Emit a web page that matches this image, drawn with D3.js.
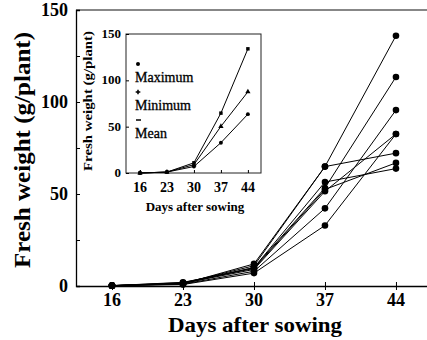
<!DOCTYPE html>
<html>
<head>
<meta charset="utf-8">
<script src="https://cdn.jsdelivr.net/npm/d3@7"></script>
<style>
  body { margin: 0; background: #fff; }
  svg { display: block; }
  text { font-family: "Liberation Serif", "Times New Roman", serif; fill: #000; }
</style>
</head>
<body>
<script>

// days after sowing (x categories)
const days = [16, 23, 30, 37, 44];

// main chart: one line per plant line / cultivar
const s1 = [0.2, 1.5, 11, 64.9, 136];
const s2 = [0.2, 1.2, 12, 64.9, 72.2];
const s3 = [0.2, 1.8, 10, 53.3, 113.6];
const s4 = [0.2, 1.0, 8, 42.2, 95.6];
const s5 = [0.2, 0.8, 7, 32.9, 82.6];
const s6 = [0.2, 1.5, 9, 51.5, 82.6];
const s7 = [0.2, 1.2, 10, 56.5, 63.8];
const s8 = [0.2, 2.0, 9.5, 52.5, 66.9];
const mainSeries = [s1, s2, s3, s4, s5, s6, s7, s8];

// inset chart
const insetA = [0, 1, 11, 64.6, 134];
const insetB = [0, 1, 9, 50.3, 87.6];
const insetC = [0, 1, 7, 32.7, 63.5];
const insetSeries = [insetA, insetB, insetC];
const legendLabels = ["Maximum", "Minimum", "Mean"];

const yTicksMain = [0, 50, 100, 150];
const yMinorMain = [0, 25, 50, 75, 100, 125, 150];
const yTicksInset = [0, 50, 100, 150];

const W = 427, H = 340;

const svg = d3.select("body").append("svg")
    .attr("width", W)
    .attr("height", H);

// ---- main chart ----
const x = d3.scaleLinear().domain([12.45, 47.06]).range([76, 427]);
const y = d3.scaleLinear().domain([0, 150]).range([286, 10]);

// top frame line
svg.append("line")
    .attr("x1", 76).attr("x2", 427)
    .attr("y1", y(150)).attr("y2", y(150))
    .attr("stroke", "#111").attr("stroke-width", 1.2);

// left axis, ticks pointing inward
const yAxis = svg.append("g")
    .attr("transform", "translate(76,0)")
    .call(d3.axisRight(y).tickValues(yMinorMain).tickSize(4).tickFormat(""));
yAxis.select(".domain").attr("stroke-width", 1.3);

svg.selectAll("text.ylab")
    .data(yTicksMain)
    .enter()
    .append("text")
        .attr("class", "ylab")
        .attr("x", 68)
        .attr("y", d => y(d) + 6)
        .attr("text-anchor", "end")
        .style("font-size", "18px")
        .style("font-weight", "bold")
        .text(d => d);

// bottom axis, ticks crossing the line
const xAxis = svg.append("g")
    .attr("transform", "translate(0," + y(0) + ")")
    .call(d3.axisBottom(x).tickValues(days).tickSizeInner(4).tickSizeOuter(0).tickFormat(""));
xAxis.select(".domain").attr("stroke-width", 1.3);
xAxis.selectAll(".tick line").attr("y1", -4);

svg.selectAll("text.xlab")
    .data(days)
    .enter()
    .append("text")
        .attr("class", "xlab")
        .attr("x", d => x(d))
        .attr("y", 306)
        .attr("text-anchor", "middle")
        .style("font-size", "18px")
        .style("font-weight", "bold")
        .text(d => d);

svg.append("text")
    .attr("x", 255)
    .attr("y", 332)
    .attr("text-anchor", "middle")
    .attr("textLength", 174)
    .attr("lengthAdjust", "spacingAndGlyphs")
    .style("font-size", "22px")
    .style("font-weight", "bold")
    .text("Days after sowing");

svg.append("text")
    .attr("transform", "translate(30,150) rotate(-90)")
    .attr("text-anchor", "middle")
    .attr("textLength", 236)
    .attr("lengthAdjust", "spacingAndGlyphs")
    .style("font-size", "23px")
    .style("font-weight", "bold")
    .text("Fresh weight (g/plant)");

const line = d3.line()
    .x((d, i) => x(days[i]))
    .y(d => y(d));

svg.selectAll("path.series")
    .data(mainSeries)
    .enter()
    .append("path")
        .attr("class", "series")
        .attr("d", line)
        .attr("fill", "none")
        .attr("stroke", "#000")
        .attr("stroke-width", 1);

mainSeries.forEach(s => {
    svg.selectAll(null)
        .data(s)
        .enter()
        .append("circle")
            .attr("cx", (d, i) => x(days[i]))
            .attr("cy", d => y(d))
            .attr("r", 3.3)
            .attr("fill", "#000");
});

// ---- inset ----
const ix = d3.scaleLinear().domain([12.37, 47.4]).range([126, 261]);
const iy = d3.scaleLinear().domain([0, 150]).range([173, 34]);

const inset = svg.append("g");

inset.append("rect")
    .attr("x", 126).attr("y", 34)
    .attr("width", 135).attr("height", 139)
    .attr("fill", "#fff")
    .attr("stroke", "#222")
    .attr("stroke-width", 1);

inset.append("g")
    .attr("transform", "translate(126,0)")
    .call(d3.axisRight(iy).tickValues(yTicksInset).tickSize(3).tickFormat(""))
    .select(".domain").remove();

inset.append("g")
    .attr("transform", "translate(0,173)")
    .call(d3.axisTop(ix).tickValues(days).tickSize(3).tickFormat(""))
    .select(".domain").remove();

inset.selectAll("text.iy")
    .data(yTicksInset)
    .enter()
    .append("text")
        .attr("x", 121)
        .attr("y", d => iy(d) + 4)
        .attr("text-anchor", "end")
        .style("font-size", "13px")
        .style("font-weight", "bold")
        .text(d => d);

inset.selectAll("text.ix")
    .data(days)
    .enter()
    .append("text")
        .attr("x", d => ix(d))
        .attr("y", 192)
        .attr("text-anchor", "middle")
        .style("font-size", "14px")
        .style("font-weight", "bold")
        .text(d => d);

inset.append("text")
    .attr("x", 195)
    .attr("y", 211)
    .attr("text-anchor", "middle")
    .style("font-size", "13px")
    .style("font-weight", "bold")
    .text("Days after sowing");

inset.append("text")
    .attr("transform", "translate(92,101) rotate(-90)")
    .attr("text-anchor", "middle")
    .attr("textLength", 140)
    .attr("lengthAdjust", "spacingAndGlyphs")
    .style("font-size", "12px")
    .style("font-weight", "bold")
    .text("Fresh weight (g/plant)");

const iline = d3.line()
    .x((d, i) => ix(days[i]))
    .y(d => iy(d));

inset.selectAll("path.iseries")
    .data(insetSeries)
    .enter()
    .append("path")
        .attr("d", iline)
        .attr("fill", "none")
        .attr("stroke", "#000")
        .attr("stroke-width", 1);

const markerTypes = [d3.symbolSquare, d3.symbolTriangle, d3.symbolCircle];
insetSeries.forEach((s, k) => {
    inset.selectAll(null)
        .data(s)
        .enter()
        .append("path")
            .attr("transform", (d, i) => "translate(" + ix(days[i]) + "," + iy(d) + ")")
            .attr("d", d3.symbol().type(markerTypes[k]).size(12))
            .attr("fill", "#000");
});

// legend inside inset
const legY = [64, 92, 120];
inset.append("circle").attr("cx", 138).attr("cy", legY[0]).attr("r", 2).attr("fill", "#000");
inset.append("path")
    .attr("transform", "translate(138," + legY[1] + ")")
    .attr("d", d3.symbol().type(d3.symbolCross).size(12))
    .attr("fill", "#000");
inset.append("line")
    .attr("x1", 136).attr("x2", 141)
    .attr("y1", legY[2]).attr("y2", legY[2])
    .attr("stroke", "#000").attr("stroke-width", 1.5);

inset.selectAll("text.leg")
    .data(legendLabels)
    .enter()
    .append("text")
        .attr("x", 135)
        .attr("y", (d, i) => legY[i] + 18)
        .style("font-size", "14px")
        .style("stroke", "#000")
        .style("stroke-width", 0.3)
        .text(d => d);

</script>
</body>
</html>
